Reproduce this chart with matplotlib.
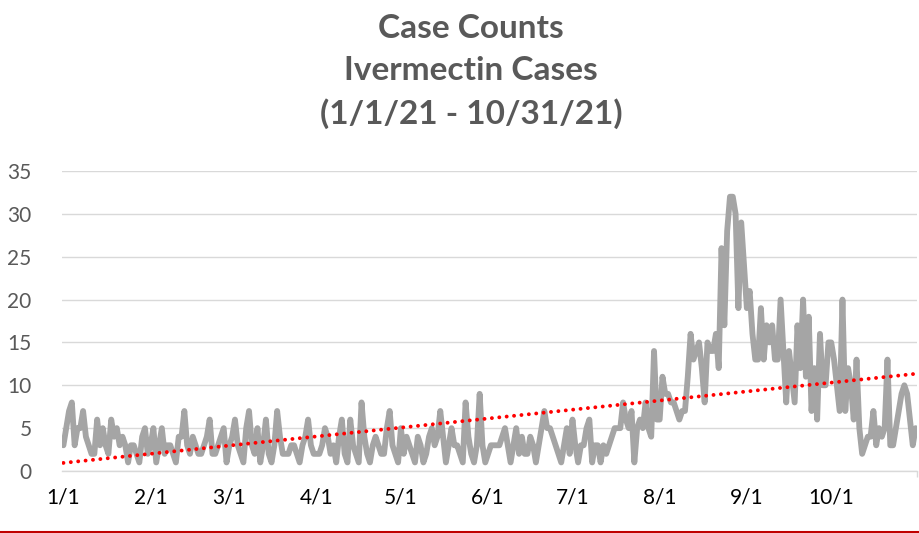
import matplotlib.pyplot as plt
import numpy as np

# daily case counts, 1/1/21 - 10/31/21
jan = [3, 5, 7, 8, 3, 5, 5, 7, 4, 3, 2, 2, 6, 3, 5, 3, 2, 6, 4, 5, 3, 4, 3, 1, 3, 3, 2, 1, 4, 5, 2]
feb = [3, 5, 1, 3, 5, 2, 3, 3, 2, 1, 4, 4, 7, 3, 2, 4, 3, 2, 2, 3, 4, 6, 2, 2, 3, 4, 5, 1]
mar = [3, 4, 6, 3, 2, 1, 5, 7, 3, 2, 5, 1, 3, 6, 2, 1, 3, 7, 4, 2, 2, 2, 3, 3, 2, 1, 3, 4, 6, 3, 2]
apr = [2, 2, 3, 5, 4, 2, 3, 1, 4, 6, 2, 1, 6, 3, 2, 1, 8, 4, 2, 1, 3, 4, 3, 2, 2, 5, 7, 3, 2, 1]
may = [5, 2, 4, 3, 2, 1, 4, 3, 1, 2, 4, 5, 3, 4, 7, 4, 1, 3, 5, 3, 3, 2, 1, 8, 4, 2, 1, 3, 9, 3, 1]
jun = [2, 3, 3, 3, 3, 4, 5, 3, 1, 3, 5, 2, 4, 2, 2, 4, 3, 1, 3, 5, 7, 5, 5, 4, 3, 2, 1, 3, 5, 2]
jul = [6, 3, 1, 3, 3, 5, 6, 1, 3, 3, 1, 3, 2, 3, 4, 5, 5, 5, 8, 6, 5, 7, 1, 5, 6, 5, 8, 5, 4, 14, 6]
aug = [6, 11, 9, 9, 8, 8, 7, 6, 7, 7, 11, 16, 13, 14, 15, 12, 8, 15, 14, 14, 16, 12, 26, 17, 28, 32, 32, 30, 19, 29, 24]
sep = [19, 21, 16, 13, 13, 19, 13, 17, 15, 17, 13, 13, 20, 14, 8, 14, 11, 8, 17, 12, 20, 11, 18, 7, 12, 6, 16, 10, 10, 15]
oct_ = [15, 13, 10, 7, 20, 7, 12, 10, 6, 13, 5, 2, 3, 4, 4, 7, 3, 5, 4, 5, 13, 3, 3, 5, 7, 9, 10, 9, 6, 3, 5]

month_labels = ['1/1', '2/1', '3/1', '4/1', '5/1', '6/1', '7/1', '8/1', '9/1', '10/1']
months = [jan, feb, mar, apr, may, jun, jul, aug, sep, oct_]

counts = np.array(sum(months, []))
days = np.arange(len(counts))
month_starts = np.cumsum([0] + [len(m) for m in months])

grey_txt = '#595959'
plt.rcParams['font.family'] = ['Lato', 'DejaVu Sans']

fig = plt.figure(figsize=(9.2, 5.33), dpi=100)
ax = fig.add_axes([62 / 920, 1 - 471 / 533, (917 - 62) / 920, 300 / 533])

ax.plot(days, counts, color='#A5A5A5', lw=4.2, solid_joinstyle='round', solid_capstyle='round', zorder=3)

# linear trendline
slope, icpt = np.polyfit(days, counts, 1)
ax.plot(days, slope * days + icpt, color='#FF0000', lw=2.8, linestyle=(0, (0.01, 1.9)),
        dash_capstyle='round', zorder=4)

ax.set_xlim(-0.5, len(counts) - 0.5)
ax.set_ylim(0, 35)
ax.set_yticks(np.arange(0, 36, 5))
ax.yaxis.grid(True, color='#D9D9D9', lw=1.0)
ax.set_axisbelow(True)

ax.set_xticks(month_starts[:-1])
ax.set_xticklabels(month_labels)
ax.set_xticks(list(month_starts[:-1]) + [len(counts) - 0.5], minor=True)

for s in ['top', 'right', 'left']:
    ax.spines[s].set_visible(False)
ax.spines['bottom'].set_color('#D9D9D9')
ax.spines['bottom'].set_linewidth(1.0)

ax.tick_params(axis='y', length=0, pad=22, labelsize=15, labelcolor=grey_txt)
ax.tick_params(axis='x', which='major', length=0, pad=12, labelsize=15, labelcolor='black')
ax.tick_params(axis='x', which='minor', length=4, width=1, color='#D9D9D9')

title_lines = ['Case Counts', 'Ivermectin Cases', '(1/1/21 - 10/31/21)']
for i, t in enumerate(title_lines):
    fig.text(471 / 920, 1 - (28 + 43 * i) / 533, t, ha='center', va='center', fontsize=24,
             fontweight='bold', color=grey_txt)

# red rule along the bottom edge
fig.add_artist(plt.Line2D([0, 1], [1.5 / 533, 1.5 / 533], color='#C00000', lw=1.5, transform=fig.transFigure))

fig.savefig('out.png', dpi=100)
